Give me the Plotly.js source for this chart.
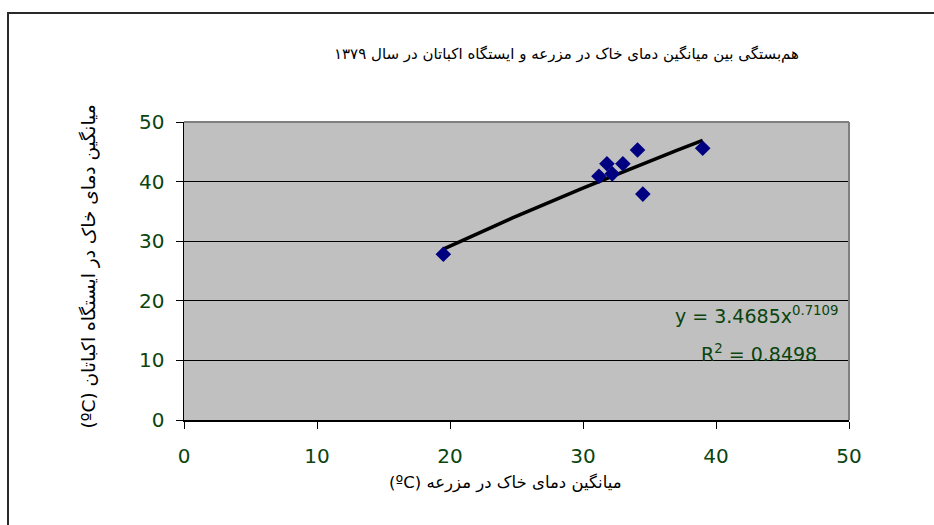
<!DOCTYPE html>
<html>
<head>
<meta charset="utf-8">
<script src="https://cdn.plot.ly/plotly-3.0.1.min.js"></script>
<style>
html,body{margin:0;padding:0;background:#fff;overflow:hidden;}
#wrap{position:relative;width:934px;height:525px;}
#chart{width:934px;height:525px;}
#frame{position:absolute;left:7px;top:12px;width:940px;height:530px;border:2px solid #2a2a2a;box-sizing:border-box;pointer-events:none;}
</style>
</head>
<body>
<div id="wrap"><div id="chart"></div><div id="frame"></div></div>
<script>
// Data
const fieldTemp   = [19.5, 31.2, 31.8, 32.2, 33.0, 34.1, 34.5, 39.0];   // x: mean soil temp in field (ºC)
const stationTemp = [27.8, 40.9, 43.0, 41.3, 43.0, 45.3, 37.9, 45.6];   // y: mean soil temp at Ekbatan station (ºC)
const fitA = 3.4685;      // power trendline coefficient
const fitB = 0.7109;      // power trendline exponent
const fitR2 = 0.8498;
const tickVals = [0, 10, 20, 30, 40, 50];

const chartTitle = 'هم‌بستگی بین میانگین دمای خاک در مزرعه و ایستگاه اکباتان در سال ۱۳۷۹';
const xTitle = '(ºC) میانگین دمای خاک در مزرعه';
const yTitle = '(ºC) میانگین دمای خاک در ایستگاه اکباتان';

// Trendline from the displayed power-fit equation, across the data range
const xMin = Math.min(...fieldTemp), xMax = Math.max(...fieldTemp);
const trendX = [], trendY = [];
for (let i = 0; i <= 60; i++) {
  const x = xMin + (xMax - xMin) * i / 60;
  trendX.push(x);
  trendY.push(fitA * Math.pow(x, fitB));
}

const green = '#0a440f';
const persianFont = 'DejaVu Sans';
const numFont = 'DejaVu Sans';

const traces = [
  {
    x: trendX, y: trendY, type: 'scatter', mode: 'lines',
    line: {color: '#000', width: 3.5}, hoverinfo: 'skip', showlegend: false
  },
  {
    x: fieldTemp, y: stationTemp, type: 'scatter', mode: 'markers',
    marker: {symbol: 'diamond', size: 12, color: '#000080'}, showlegend: false
  }
];

const axisCommon = {
  range: [0, 50], tickvals: tickVals, ticktext: tickVals.map(String),
  ticks: 'outside', ticklen: 7, tickcolor: '#000', tickwidth: 1,
  showline: true, linecolor: '#000', linewidth: 1.5,
  tickfont: {family: numFont, size: 20, color: green},
  zeroline: false, fixedrange: true
};

const layout = {
  width: 934, height: 525,
  margin: {l: 184, r: 85, t: 122, b: 105},
  paper_bgcolor: 'rgba(0,0,0,0)',
  plot_bgcolor: '#c0c0c0',
  showlegend: false,
  xaxis: Object.assign({}, axisCommon, {showgrid: false, ticklabelstandoff: 10}),
  yaxis: Object.assign({}, axisCommon, {showgrid: true, gridcolor: '#000', gridwidth: 1, ticklabelstandoff: 7}),
  shapes: [
    {type: 'line', xref: 'paper', yref: 'paper', x0: 0, x1: 1, y0: 1, y1: 1, line: {color: '#808080', width: 2}, layer: 'above'},
    {type: 'line', xref: 'paper', yref: 'paper', x0: 1, x1: 1, y0: 0, y1: 1, line: {color: '#808080', width: 2}, layer: 'above'}
  ],
  annotations: [
    {text: chartTitle, xref: 'paper', yref: 'paper', x: 0.575, y: 1.228, xanchor: 'center', yanchor: 'middle',
     showarrow: false, font: {family: persianFont, size: 15, color: '#000'}},
    {text: xTitle, xref: 'paper', yref: 'paper', x: 0.483, y: -0.21, xanchor: 'center', yanchor: 'middle',
     showarrow: false, font: {family: persianFont, size: 16.5, color: '#000'}},
    {text: yTitle, xref: 'paper', yref: 'paper', x: -0.143, y: 0.515, xanchor: 'center', yanchor: 'middle', textangle: -90,
     showarrow: false, font: {family: persianFont, size: 18.5, color: '#000'}},
    {text: 'y = ' + fitA + 'x<sup>' + fitB + '</sup>', xref: 'x', yref: 'y', x: 43.1, y: 17.7, xanchor: 'center', yanchor: 'middle',
     showarrow: false, font: {family: numFont, size: 19, color: green}},
    {text: 'R<sup>2</sup> = ' + fitR2, xref: 'x', yref: 'y', x: 43.2, y: 11.2, xanchor: 'center', yanchor: 'middle',
     showarrow: false, font: {family: numFont, size: 19, color: green}}
  ]
};

Plotly.newPlot('chart', traces, layout, {displayModeBar: false, staticPlot: true});
</script>
</body>
</html>
